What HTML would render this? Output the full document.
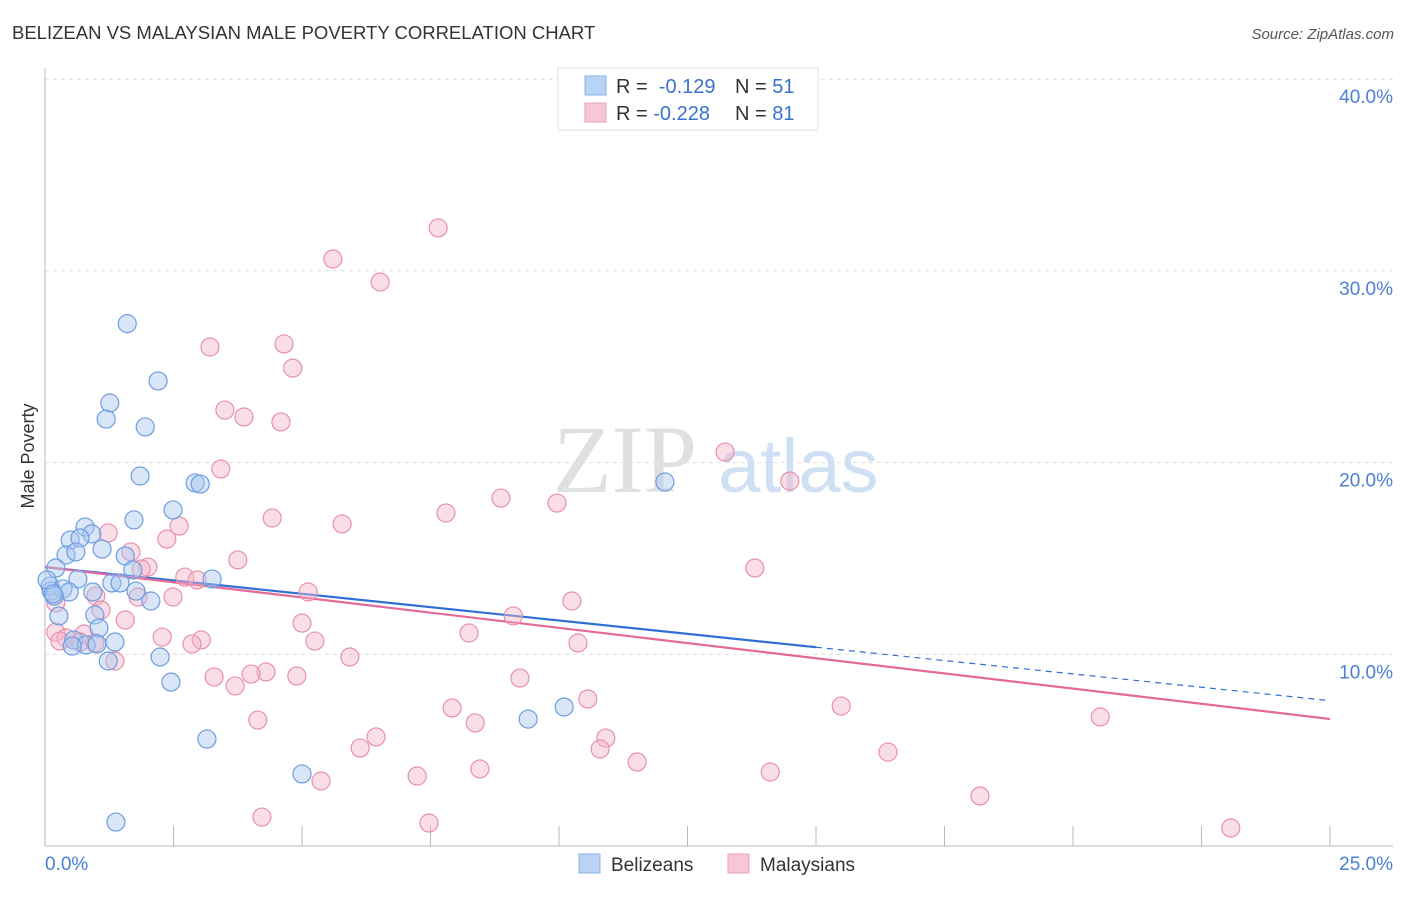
<!DOCTYPE html>
<html><head><meta charset="utf-8"><style>
body{margin:0;background:#fff;font-family:"Liberation Sans",sans-serif;}
svg text{font-family:"Liberation Sans",sans-serif;}
</style></head><body>
<svg id="chart" width="1406" height="892" viewBox="0 0 1406 892" xmlns="http://www.w3.org/2000/svg">
<text x="12" y="39" font-size="18.5" fill="#333">BELIZEAN VS MALAYSIAN MALE POVERTY CORRELATION CHART</text>
<text x="1394" y="39" font-size="15" fill="#555" font-style="italic" text-anchor="end">Source: ZipAtlas.com</text>
<g>
<text x="553" y="492" font-size="96" fill="#e0e0e0" font-family="Liberation Serif" style="font-family:'Liberation Serif',serif">ZIP</text>
<text x="718" y="492" font-size="76" fill="#cfdff4">atlas</text>
</g>
<g id="grid"></g>
<g id="axes"></g>
<g id="lines"></g>
<g id="pts"></g>
<text transform="translate(34,456) rotate(-90)" font-size="18" fill="#333" text-anchor="middle">Male Poverty</text>
<g>
<rect x="558" y="68" width="260" height="62" fill="#fff" stroke="#ddd"/>
<rect x="585" y="76" width="21" height="19" fill="#b9d3f5" stroke="#8ab2e8"/>
<rect x="585" y="103" width="21" height="19" fill="#f8c7d6" stroke="#eba2ba"/>
<text x="616" y="93" font-size="20" fill="#333">R = <tspan fill="#3a72cf">&#160;-0.129</tspan><tspan x="735">N = </tspan><tspan fill="#3a72cf">51</tspan></text>
<text x="616" y="120" font-size="20" fill="#333">R = <tspan fill="#3a72cf">-0.228</tspan><tspan x="735">N = </tspan><tspan fill="#3a72cf">81</tspan></text>
</g>
<g>
<rect x="579" y="854" width="21" height="19" fill="#b9d3f5" stroke="#8ab2e8"/>
<text x="611" y="871" font-size="19" fill="#333">Belizeans</text>
<rect x="728" y="854" width="21" height="19" fill="#f8c7d6" stroke="#eba2ba"/>
<text x="760" y="871" font-size="19" fill="#333">Malaysians</text>
</g>
</svg>
<script>
const blueX=[1.60,2.20,1.26,1.19,1.95,1.85,2.92,3.02,2.49,1.73,0.78,0.91,0.49,0.68,1.11,0.41,0.60,1.56,0.21,1.71,0.64,3.25,1.30,1.46,0.10,0.35,0.93,0.12,0.47,0.18,1.77,2.06,0.97,0.27,1.05,0.56,1.36,0.80,1.01,0.53,1.23,2.24,2.45,3.15,5.00,1.38,12.06,9.40,10.10,0.04,0.16];
const blueY=[27.25,24.26,23.11,22.27,21.86,19.30,18.94,18.88,17.53,17.01,16.64,16.28,15.96,16.07,15.49,15.18,15.34,15.13,14.50,14.40,13.93,13.93,13.72,13.72,13.56,13.41,13.25,13.30,13.25,13.04,13.30,12.78,12.05,12.00,11.37,10.75,10.64,10.49,10.54,10.43,9.65,9.86,8.55,5.58,3.76,1.25,18.99,6.62,7.25,13.88,13.15];
const pinkX=[7.65,5.60,6.52,3.21,4.65,4.82,3.50,3.87,4.59,3.42,13.23,14.49,8.87,9.96,7.80,4.42,5.78,2.61,1.23,2.37,1.67,3.75,2.00,1.87,13.81,2.72,2.96,5.12,0.99,1.81,2.49,10.25,9.11,5.00,1.56,1.09,0.21,0.21,8.25,2.28,3.04,5.25,10.37,2.86,0.41,0.29,0.76,0.68,0.97,1.36,5.93,4.30,4.01,3.29,4.90,3.70,9.24,10.56,7.92,8.37,15.49,20.53,4.14,6.44,6.13,10.91,10.80,11.52,16.40,7.24,8.46,14.11,5.37,18.19,4.22,7.47,23.07];
const pinkY=[32.24,30.62,29.42,26.03,26.19,24.93,22.74,22.38,22.12,19.67,20.55,19.04,18.15,17.89,17.37,17.11,16.80,16.69,16.33,16.01,15.34,14.92,14.55,14.45,14.50,14.03,13.88,13.25,13.04,12.99,12.99,12.78,12.00,11.63,11.79,12.31,12.68,11.16,11.11,10.90,10.75,10.69,10.59,10.54,10.85,10.69,11.06,10.64,10.59,9.65,9.86,9.08,8.97,8.82,8.87,8.35,8.76,7.67,7.20,6.42,7.30,6.73,6.57,5.69,5.11,5.63,5.06,4.38,4.90,3.65,4.02,3.86,3.39,2.61,1.51,1.20,0.94];
const yTicks=[10,20,30,40];
const yTickLabels=["10.0%","20.0%","30.0%","40.0%"];
const xTicks=[0,2.5,5,7.5,10,12.5,15,17.5,20,22.5,25];
const blueLine=[14.55,-0.2787];
const pinkLine=[14.55,-0.317];
const blueSolidEnd=15;
const NS="http://www.w3.org/2000/svg";
const X=v=>45+v*51.4, Y=v=>846-v*19.17;
function mk(t,a,p){const e=document.createElementNS(NS,t);for(const k in a)e.setAttribute(k,a[k]);p.appendChild(e);return e;}
const grid=document.getElementById('grid'),axes=document.getElementById('axes'),lines=document.getElementById('lines'),pts=document.getElementById('pts');
yTicks.forEach((t,i)=>{
 const l=mk('line',{x1:45,x2:1393,y1:Y(t),y2:Y(t),stroke:'#ddd','stroke-dasharray':'4,4'},grid);
 
 
 const tx=mk('text',{x:1393,y:Y(t)+24,'font-size':19,fill:'#4a7fd4','text-anchor':'end'},axes);
 tx.textContent=yTickLabels[i];
 
 
});
const ax=mk('line',{x1:45,x2:45,y1:68,y2:846,stroke:'#bbb'},axes);


const bx=mk('line',{x1:45,x2:1393,y1:846,y2:846,stroke:'#bbb'},axes);


xTicks.forEach(t=>{const l=mk('line',{x1:X(t),x2:X(t),y1:826,y2:846,stroke:'#bbb'},axes);
 
 });
const x0=mk('text',{x:45,y:870,'font-size':19,fill:'#4a7fd4'},axes);x0.textContent='0.0%';


const x1=mk('text',{x:1393,y:870,'font-size':19,fill:'#4a7fd4','text-anchor':'end'},axes);x1.textContent='25.0%';


function dot(x,y,f,s,n){const c=mk('circle',{cx:X(x),cy:Y(y),r:9,fill:f,'fill-opacity':0.45,stroke:s,'stroke-width':1.2},pts);
 
 }
pinkX.forEach((x,i)=>dot(x,pinkY[i],'#f4b6ca','#e98fad','malaysian-point'));
blueX.forEach((x,i)=>dot(x,blueY[i],'#a8c7f0','#6d9de0','belizean-point'));
const fb=v=>blueLine[0]+blueLine[1]*v, fp=v=>pinkLine[0]+pinkLine[1]*v;
const l1=mk('line',{x1:X(0),y1:Y(fb(0)),x2:X(blueSolidEnd),y2:Y(fb(blueSolidEnd)),stroke:'#2f6fd6','stroke-width':2.2},lines);


const l2=mk('line',{x1:X(blueSolidEnd),y1:Y(fb(blueSolidEnd)),x2:X(25),y2:Y(fb(25)),stroke:'#2f6fd6','stroke-width':1.2,'stroke-dasharray':'6,5'},lines);


const l3=mk('line',{x1:X(0),y1:Y(fp(0)),x2:X(25),y2:Y(fp(25)),stroke:'#e4699a','stroke-width':2.2},lines);


</script>
</body></html>
